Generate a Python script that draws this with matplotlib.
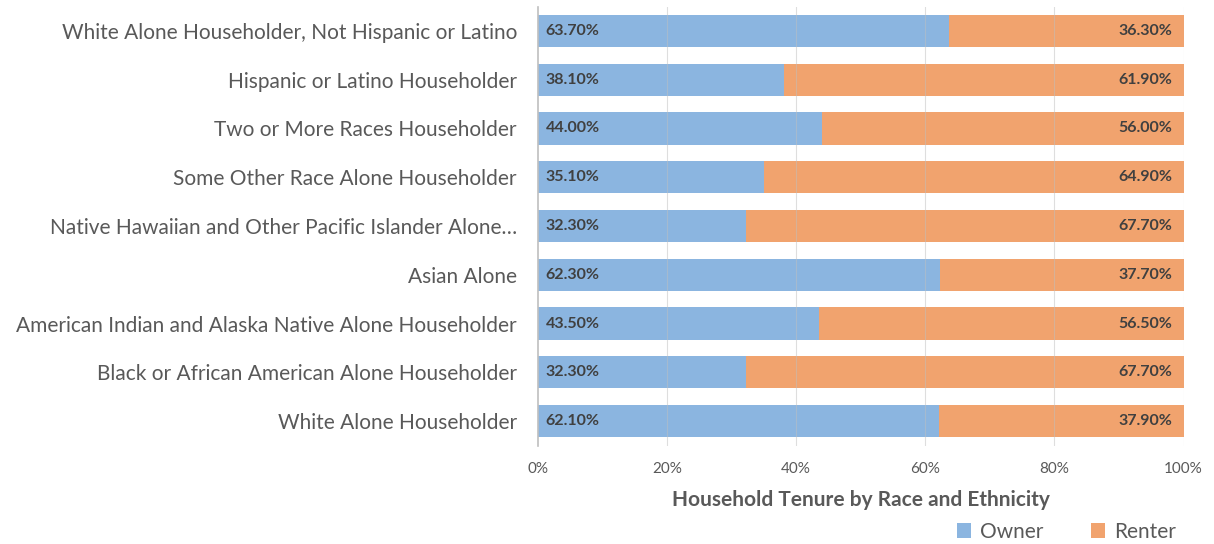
import matplotlib.pyplot as plt
import numpy as np

plt.rcParams['font.family'] = ['Lato', 'DejaVu Sans']

categories = [
    "White Alone Householder, Not Hispanic or Latino",
    "Hispanic or Latino Householder",
    "Two or More Races Householder",
    "Some Other Race Alone Householder",
    "Native Hawaiian and Other Pacific Islander Alone\u2026",
    "Asian Alone",
    "American Indian and Alaska Native Alone Householder",
    "Black or African American Alone Householder",
    "White Alone Householder",
]
owner = [63.7, 38.1, 44.0, 35.1, 32.3, 62.3, 43.5, 32.3, 62.1]
renter = [36.3, 61.9, 56.0, 64.9, 67.7, 37.7, 56.5, 67.7, 37.9]

blue = '#8BB5E0'
orange = '#F1A36E'
grey = '#595959'

fig = plt.figure(figsize=(12.14, 5.44), dpi=100)
ax = fig.add_axes([0.443, 0.181, 0.532, 0.807])

y = np.arange(len(categories))
ax.barh(y, owner, height=0.66, color=blue, label='Owner', zorder=2)
ax.barh(y, renter, left=owner, height=0.66, color=orange, label='Renter', zorder=2)

# gridlines faintly over the bars
for xv in [20, 40, 60, 80, 100]:
    ax.axvline(xv, color='#BFBFBF', lw=0.8, alpha=0.5, zorder=3)

for i in range(len(categories)):
    ax.text(1.2, y[i], f"{owner[i]:.2f}%", va='center', ha='left',
            fontsize=11.5, fontweight='bold', color='#404040', zorder=4)
    ax.text(98.3, y[i], f"{renter[i]:.2f}%", va='center', ha='right',
            fontsize=11.5, fontweight='bold', color='#404040', zorder=4)

ax.set_xlim(0, 100)
ax.set_ylim(len(categories) - 0.5, -0.5)
ax.set_yticks(y)
ax.set_yticklabels(categories, fontsize=15, color=grey)
ax.set_xticks([0, 20, 40, 60, 80, 100])
ax.set_xticklabels(['0%', '20%', '40%', '60%', '80%', '100%'], fontsize=11, color=grey)
ax.tick_params(axis='y', length=0, pad=15)
ax.tick_params(axis='x', length=0, pad=12)

for s in ['top', 'right', 'bottom']:
    ax.spines[s].set_visible(False)
ax.spines['left'].set_color('#BFBFBF')
ax.spines['left'].set_linewidth(1.2)

ax.set_xlabel('Household Tenure by Race and Ethnicity', fontsize=15,
              fontweight='bold', color=grey, labelpad=10)

fig.legend(loc='center right', bbox_to_anchor=(0.977, 0.022), ncol=2, frameon=False,
           fontsize=15, labelcolor=grey, handlelength=0.7, handleheight=0.7,
           columnspacing=2.3, handletextpad=0.4, borderpad=0)

fig.savefig('out.png', dpi=100)
